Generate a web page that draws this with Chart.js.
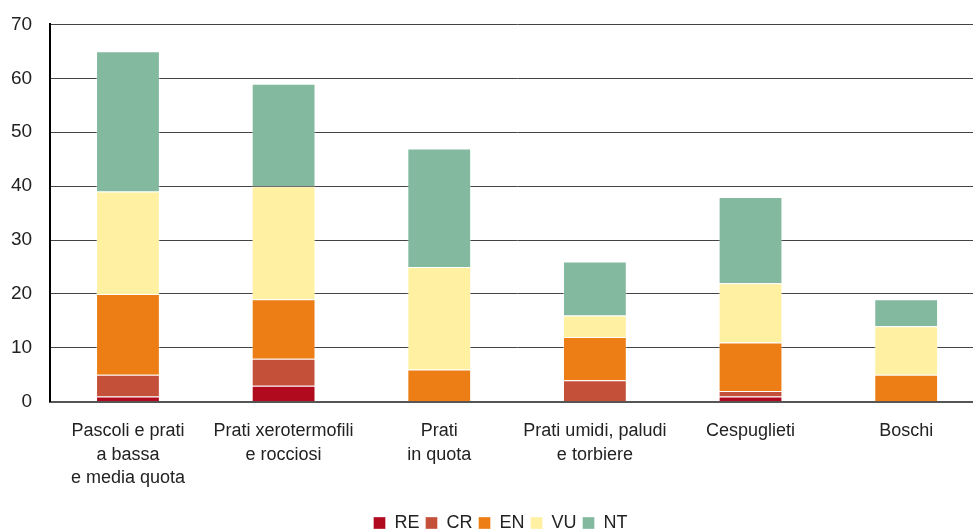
<!DOCTYPE html>
<html lang="it">
<head>
  <meta charset="UTF-8">
  <title>Specie minacciate per habitat</title>
  <script src="https://cdn.jsdelivr.net/npm/chart.js"></script>
  <style>
    html, body { margin: 0; padding: 0; background: #fff; overflow: hidden; }
    #wrap { position: relative; width: 973px; height: 530px; overflow: hidden; }
    #chart { position: absolute; left: -7px; top: -5px; }
  </style>
</head>
<body>
<div id="wrap"><canvas id="chart" width="991" height="547"></canvas></div>
<script>
const categories = [
  ['Pascoli e prati', 'a bassa', 'e media quota'],
  ['Prati xerotermofili', 'e rocciosi'],
  ['Prati', 'in quota'],
  ['Prati umidi, paludi', 'e torbiere'],
  ['Cespuglieti'],
  ['Boschi']
];
const RE = [1, 3, 0, 0, 1, 0];
const CR = [4, 5, 0, 4, 1, 0];
const EN = [15, 11, 6, 8, 9, 5];
const VU = [19, 21, 19, 4, 11, 9];
const NT = [26, 19, 22, 10, 16, 5];
const yTicks = [0, 10, 20, 30, 40, 50, 60, 70];

const colors = { RE: '#b10a1f', CR: '#c4503a', EN: '#ec7e15', VU: '#fff1a1', NT: '#82b99f' };

function ds(label, data) {
  return {
    label: label,
    data: data,
    backgroundColor: colors[label],
    borderColor: 'rgba(255,255,255,0.35)',
    borderWidth: 1,
    barPercentage: 0.41,
    categoryPercentage: 1
  };
}

// legend in the original sits a bit right of centre
const legendShift = {
  id: 'legendShift',
  beforeDraw(chart) {
    chart.legend.left += 12;
    chart.legend.right += 12;
  }
};

Chart.defaults.font.family = '"Liberation Sans", Arial, sans-serif';
Chart.defaults.color = '#222';

new Chart(document.getElementById('chart').getContext('2d'), {
  type: 'bar',
  data: {
    labels: categories,
    datasets: [ds('RE', RE), ds('CR', CR), ds('EN', EN), ds('VU', VU), ds('NT', NT)]
  },
  plugins: [legendShift],
  options: {
    responsive: false,
    animation: false,
    layout: { padding: { top: 12, right: 0, left: 0, bottom: 0 } },
    plugins: {
      legend: {
        position: 'bottom',
        labels: {
          boxWidth: 12, boxHeight: 12, padding: 6,
          font: { size: 18 }, color: '#222'
        }
      },
      tooltip: { enabled: false }
    },
    scales: {
      x: {
        stacked: true,
        grid: { display: false, drawTicks: false },
        border: { color: '#555', width: 2 },
        ticks: { font: { size: 18, lineHeight: 1.3 }, color: '#222', padding: 18, maxRotation: 0 }
      },
      y: {
        stacked: true,
        min: 0, max: 70,
        afterBuildTicks: s => { s.ticks = yTicks.map(v => ({ value: v })); },
        grid: { color: '#444', lineWidth: 1, drawTicks: false, borderDash: [1, 1] },
        border: { color: '#000', width: 2 },
        ticks: { font: { size: 19 }, color: '#222', padding: 18 }
      }
    }
  }
});
</script>
</body>
</html>
